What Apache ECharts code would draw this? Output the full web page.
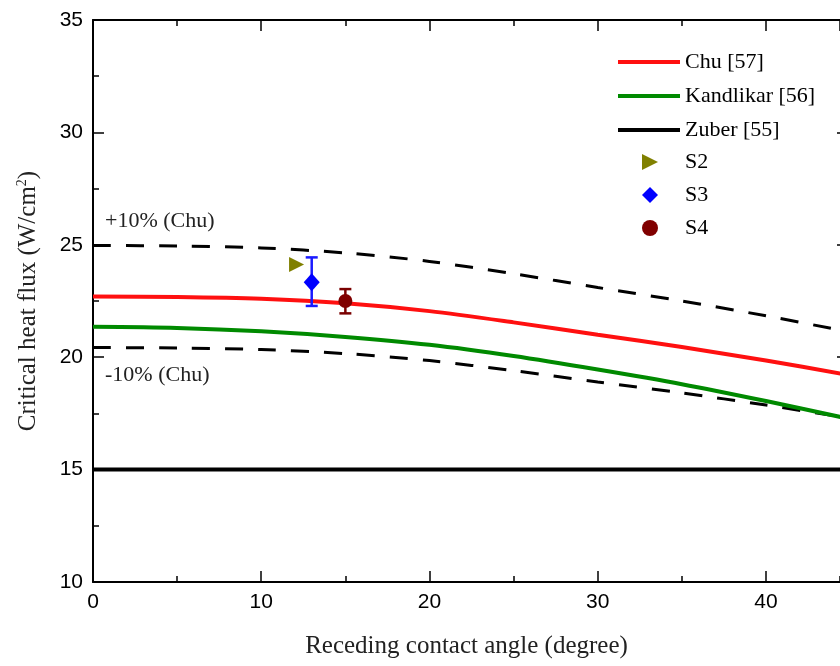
<!DOCTYPE html>
<html>
<head>
<meta charset="utf-8">
<script src="https://cdn.jsdelivr.net/npm/echarts@6/dist/echarts.min.js"></script>
<style>
  html, body { margin: 0; padding: 0; background: #fff; }
  #chart { width: 840px; height: 666px; }
</style>
</head>
<body>
<div id="chart"></div>
<script>
// angle samples (degree)
var angles = [0, 5, 10, 15, 20, 25, 30, 35, 40, 45];
// values (W/cm2)
var chu = [22.70, 22.68, 22.60, 22.40, 22.05, 21.55, 21.00, 20.45, 19.85, 19.20];
var chuUpper = [24.97, 24.95, 24.86, 24.64, 24.26, 23.71, 23.10, 22.50, 21.84, 21.12];
var chuLower = [20.43, 20.41, 20.34, 20.16, 19.85, 19.40, 18.90, 18.41, 17.87, 17.28];
var kandlikar = [21.35, 21.30, 21.15, 20.90, 20.55, 20.05, 19.45, 18.80, 18.05, 17.25];
var zuberX = [0, 45];
var zuberY = [15, 15];
// experiments: [angle, chf]
var s2 = [[12.1, 24.12]];
var s3 = [[13.0, 23.33]];
var s4 = [[15.0, 22.50]];
// error bars: [angle, low, high]
var s3Err = [[13.0, 22.28, 24.44]];
var s4Err = [[15.0, 21.95, 23.03]];

// the picture is cropped on the right, just past 44
var xMax = 44.4;

function pairs(xs, ys) {
    return xs.map(function (x, i) { return [x, ys[i]]; });
}

var serif = 'Liberation Serif';
var sans = 'Liberation Sans';

function errorSeries(name, data, color) {
    return {
        name: name,
        type: 'custom',
        z: 3,
        data: data,
        encode: { x: 0, y: [1, 2] },
        renderItem: function (params, api) {
            var x = api.value(0);
            var lo = api.coord([x, api.value(1)]);
            var hi = api.coord([x, api.value(2)]);
            var w = 6;
            var style = { stroke: color, lineWidth: 2.5 };
            return {
                type: 'group',
                children: [
                    { type: 'line', shape: { x1: lo[0], y1: lo[1], x2: hi[0], y2: hi[1] }, style: style },
                    { type: 'line', shape: { x1: lo[0] - w, y1: lo[1], x2: lo[0] + w, y2: lo[1] }, style: style },
                    { type: 'line', shape: { x1: hi[0] - w, y1: hi[1], x2: hi[0] + w, y2: hi[1] }, style: style }
                ]
            };
        }
    };
}

var lineStyleAxis = { color: '#000', width: 2 };
var tickStyle = { color: '#000', width: 1.5 };

function xAxisDef(pos, interval, tickLen, extra) {
    return Object.assign({
        type: 'value', min: 0, max: xMax, interval: interval, position: pos,
        axisLine: { show: true, onZero: false, lineStyle: lineStyleAxis },
        axisTick: { show: true, inside: true, length: tickLen, lineStyle: tickStyle },
        axisLabel: { show: false },
        splitLine: { show: false }
    }, extra || {});
}

function yAxisDef(pos, tickLen, minor, extra) {
    return Object.assign({
        type: 'value', min: 10, max: 35, interval: 5, position: pos,
        axisLine: { show: pos === 'left', onZero: false, lineStyle: lineStyleAxis },
        axisTick: { show: true, inside: true, length: tickLen, lineStyle: tickStyle },
        minorTick: { show: minor, splitNumber: 2, length: 6, lineStyle: tickStyle },
        axisLabel: { show: false },
        splitLine: { show: false }
    }, extra || {});
}

var chart = echarts.init(document.getElementById('chart'));
var option = {
    backgroundColor: '#fff',
    animation: false,
    grid: { left: 93, top: 20, right: 0, bottom: 84 },
    legend: [{
        left: 618, top: 51, orient: 'vertical', padding: 0,
        itemWidth: 62, itemHeight: 4, itemGap: 12, icon: 'rect',
        textStyle: { fontFamily: serif, fontSize: 22, color: '#000', lineHeight: 22 },
        data: ['Chu [57]', 'Kandlikar [56]', 'Zuber [55]']
    }, {
        left: 642, top: 151, orient: 'vertical', padding: 0,
        itemWidth: 16, itemHeight: 16, itemGap: 11,
        textStyle: { fontFamily: serif, fontSize: 22, color: '#000', lineHeight: 22, padding: [0, 0, 0, 22] },
        data: [
            { name: 'S2', icon: 'path://M0,0 L10,5 L0,10 Z' },
            { name: 'S3', icon: 'diamond' },
            { name: 'S4', icon: 'circle' }
        ]
    }],
    xAxis: [
        xAxisDef('bottom', 10, 11, {
            name: 'Receding contact angle (degree)', nameLocation: 'middle', nameGap: 52,
            nameTextStyle: { fontFamily: serif, fontSize: 25, color: '#222' },
            axisLabel: { show: true, fontFamily: sans, fontSize: 21, color: '#000', margin: 10, showMaxLabel: false }
        }),
        xAxisDef('top', 10, 11),
        // minor ticks every 5 degrees
        xAxisDef('bottom', 5, 6, { axisLine: { show: false, onZero: false } }),
        xAxisDef('top', 5, 6, { axisLine: { show: false, onZero: false } })
    ],
    yAxis: [
        yAxisDef('left', 11, true, {
            name: 'Critical heat flux (W/cm{sup|2})', nameLocation: 'middle', nameGap: 52,
            nameTextStyle: {
                fontFamily: serif, fontSize: 25, color: '#222',
                rich: { sup: { fontFamily: serif, fontSize: 14, color: '#222', padding: [0, 0, 12, 0] } }
            },
            axisLabel: { show: true, fontFamily: sans, fontSize: 21, color: '#000', margin: 10 }
        }),
        // right frame lies just outside the crop: only the tips of its ticks show
        yAxisDef('right', 3, false)
    ],
    graphic: [
        { type: 'text', left: 105, top: 210, style: { text: '+10% (Chu)', fontFamily: serif, fontSize: 22, fill: '#222' } },
        { type: 'text', left: 105, top: 364, style: { text: '-10% (Chu)', fontFamily: serif, fontSize: 22, fill: '#222' } }
    ],
    series: [
        {
            name: 'Zuber [55]', type: 'line', data: pairs(zuberX, zuberY), showSymbol: false,
            color: '#000', lineStyle: { color: '#000', width: 4 }, z: 2
        },
        {
            name: '+10% (Chu)', type: 'line', data: pairs(angles, chuUpper), showSymbol: false, smooth: 0.3,
            lineStyle: { color: '#000', width: 3, type: [18, 15] }, z: 2
        },
        {
            name: '-10% (Chu)', type: 'line', data: pairs(angles, chuLower), showSymbol: false, smooth: 0.3,
            lineStyle: { color: '#000', width: 3, type: [18, 15] }, z: 2
        },
        {
            name: 'Kandlikar [56]', type: 'line', data: pairs(angles, kandlikar), showSymbol: false, smooth: 0.3,
            color: '#008a00', lineStyle: { color: '#008a00', width: 4 }, z: 2
        },
        {
            name: 'Chu [57]', type: 'line', data: pairs(angles, chu), showSymbol: false, smooth: 0.3,
            color: '#ff1010', lineStyle: { color: '#ff1010', width: 4 }, z: 2
        },
        errorSeries('S3 err', s3Err, '#1a1aff'),
        errorSeries('S4 err', s4Err, '#7a0000'),
        {
            name: 'S2', type: 'scatter', data: s2, symbol: 'path://M0,0 L10,5 L0,10 Z',
            symbolSize: 15, color: '#808000', itemStyle: { opacity: 1 }, z: 4
        },
        {
            name: 'S3', type: 'scatter', data: s3, symbol: 'diamond',
            symbolSize: [16, 18], color: '#0000ff', itemStyle: { opacity: 1 }, z: 4
        },
        {
            name: 'S4', type: 'scatter', data: s4, symbol: 'circle',
            symbolSize: 14, color: '#800000', itemStyle: { opacity: 1 }, z: 4
        }
    ]
};
chart.setOption(option);
</script>
</body>
</html>
